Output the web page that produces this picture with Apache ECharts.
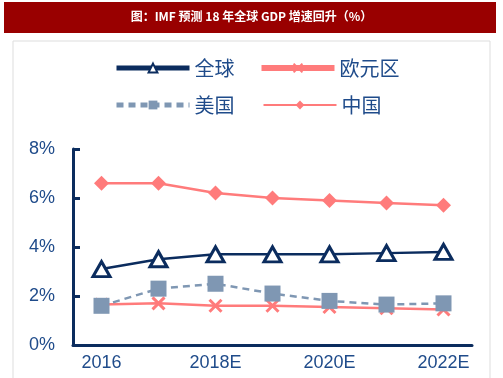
<!DOCTYPE html>
<html><head><meta charset="utf-8">
<script src="https://cdn.jsdelivr.net/npm/echarts@6/dist/echarts.min.js"></script>
<style>html,body{margin:0;padding:0;background:#fff}#c{width:503px;height:378px}</style>
</head><body><div id="c"></div>
<script>
var categories = ['2016','2017','2018E','2019E','2020E','2021E','2022E'];
var globalData = [3.1, 3.5, 3.7, 3.7, 3.7, 3.75, 3.8];
var euroData   = [1.65, 1.7, 1.6, 1.6, 1.55, 1.5, 1.45];
var usData     = [1.6, 2.3, 2.5, 2.1, 1.8, 1.65, 1.7];
var chinaData  = [6.6, 6.6, 6.2, 6.0, 5.9, 5.8, 5.7];
var yTicks = [0, 2, 4, 6, 8];
var titleText = '图：IMF 预测 18 年全球 GDP 增速回升（%）';

var navy = '#0b2c5e', salmon = '#ff7b7b', grayBlue = '#7f97b3', txt = '#1f4b8a';
var chart = echarts.init(document.getElementById('c'), null, {renderer:'canvas'});
chart.setOption({
  animation:false,
  backgroundColor:'#fff',
  graphic:[
    {type:'rect', shape:{x:4,y:2,width:492,height:31}, style:{fill:'#990000'}},
    {type:'text', left:'center', top:10, style:{text:titleText, fill:'#fff', font:'bold 12px "Noto Sans CJK SC", serif'}},
    {type:'polyline', shape:{points:[[13,378],[13,41],[490,41],[490,378]]}, style:{stroke:'#dddddd', fill:null, lineWidth:1}}
  ],
  legend:[
    {data:[{name:'全球', lineStyle:{width:5}}, {name:'欧元区', lineStyle:{width:6}}],
     left:114, top:58, padding:0, itemWidth:73, itemHeight:11, itemGap:24, textStyle:{color:txt, fontSize:20, fontFamily:'Noto Sans CJK SC'}},
    {data:[{name:'美国', lineStyle:{width:5}}, {name:'中国', lineStyle:{width:2}}],
     left:114, top:95, padding:0, itemWidth:73, itemHeight:11, itemGap:28, textStyle:{color:txt, fontSize:20, fontFamily:'Noto Sans CJK SC'}}
  ],
  grid:{left:73, right:31, top:149, bottom:33},
  xAxis:{type:'category', data:categories, boundaryGap:true,
    axisLine:{lineStyle:{color:navy, width:3}},
    axisTick:{inside:true, interval:1, length:7, lineStyle:{color:navy, width:3}},
    axisLabel:{interval:1, color:txt, fontSize:18, fontFamily:'Arial, Liberation Sans', margin:9}},
  yAxis:{type:'value', min:0, max:8, interval:2, splitLine:{show:false},
    axisLine:{show:true, lineStyle:{color:navy, width:3}},
    axisTick:{show:true, inside:true, length:7, lineStyle:{color:navy, width:3}},
    axisLabel:{formatter:function(v){return v+'%';}, color:txt, fontSize:18, fontFamily:'Arial, Liberation Sans', margin:18}},
  series:[
    {name:'全球', type:'line', data:globalData, color:navy, symbol:'triangle', symbolSize:[17,15],
     lineStyle:{color:navy, width:2.5}, itemStyle:{color:'#fff', borderColor:navy, borderWidth:3}, z:4},
    {name:'欧元区', type:'line', data:euroData, color:salmon, symbol:'path://M0,0L2,2M2,0L0,2', symbolSize:12,
     lineStyle:{color:salmon, width:2.5}, itemStyle:{color:salmon, borderColor:salmon, borderWidth:3}, z:2},
    {name:'美国', type:'line', data:usData, color:grayBlue, symbol:'rect', symbolSize:16,
     lineStyle:{color:grayBlue, width:2.5, type:[7,5]}, itemStyle:{color:grayBlue}, z:3},
    {name:'中国', type:'line', data:chinaData, color:salmon, symbol:'diamond', symbolSize:15,
     lineStyle:{color:salmon, width:2.5}, itemStyle:{color:salmon}, z:2}
  ]
});
</script></body></html>
